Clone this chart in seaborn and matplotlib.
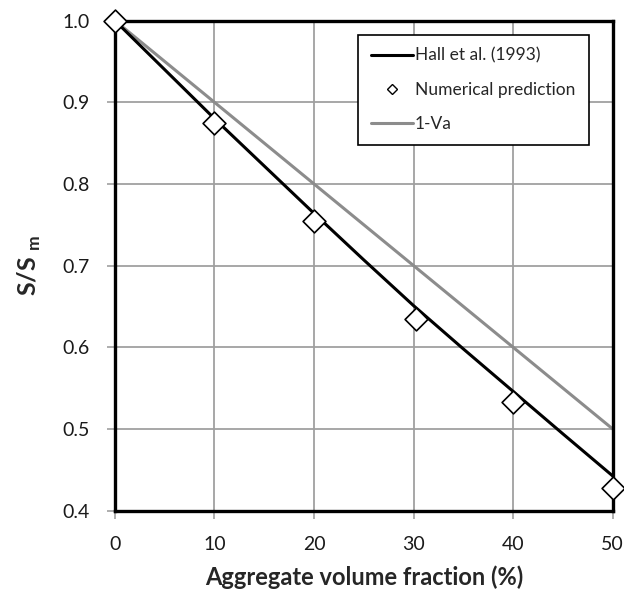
import matplotlib
matplotlib.use("Agg")
import matplotlib.pyplot as plt
import seaborn as sns
from matplotlib.lines import Line2D

# Hall et al. (1993) relation, sampled every 5 % aggregate
hall_x = [0, 5, 10, 15, 20, 25, 30, 35, 40, 45, 50]
hall_y = [1.000, 0.940, 0.880, 0.822, 0.764, 0.707, 0.651, 0.598, 0.546, 0.494, 0.4425]

# Numerical prediction
num_x = [0, 10, 20, 30.2, 40, 50]
num_y = [1.000, 0.874, 0.755, 0.635, 0.533, 0.428]

# Simple dilution line 1 - Va
dil_x = [0, 50]
dil_y = [1.0, 0.5]

y_ticks = [0.4, 0.5, 0.6, 0.7, 0.8, 0.9, 1.0]
x_ticks = [0, 10, 20, 30, 40, 50]

sns.set_theme(style="white")
plt.rcParams["font.family"] = ["Lato", "DejaVu Sans"]
plt.rcParams["mathtext.fontset"] = "custom"
plt.rcParams["mathtext.bf"] = "Lato:bold"
plt.rcParams["mathtext.rm"] = "Lato"

fig = plt.figure(figsize=(6.24, 5.92), dpi=100)
ax = fig.add_axes([0.184, 0.1373, 0.798, 0.828])

grid_c = "#a0a0a0"
for xv in x_ticks[1:-1]:
    ax.axvline(xv, color=grid_c, lw=1.3, zorder=0)
for yv in y_ticks[1:-1]:
    ax.axhline(yv, color=grid_c, lw=1.3, zorder=0)

sns.lineplot(x=dil_x, y=dil_y, ax=ax, color="#8c8c8c", lw=2.2, zorder=2)
sns.lineplot(x=hall_x, y=hall_y, ax=ax, color="black", lw=2.2, zorder=3)
sns.scatterplot(x=num_x, y=num_y, ax=ax, marker="D", s=135,
                facecolor="white", edgecolor="black", linewidth=1.2,
                zorder=5, clip_on=False)

ax.set_xlim(0, 50)
ax.set_ylim(0.4, 1.0)
ax.set_xticks(x_ticks)
ax.set_yticks(y_ticks)
ax.set_yticklabels([f"{v:.1f}" for v in y_ticks])
ax.tick_params(axis="both", which="major", direction="out", length=6,
               width=1.2, color=grid_c, labelsize=14, labelcolor="#1a1a1a",
               left=True, bottom=True)
ax.tick_params(axis="y", pad=12)
ax.tick_params(axis="x", pad=12)

for side in ["left", "right", "top", "bottom"]:
    ax.spines[side].set_visible(True)
    ax.spines[side].set_color("black")
    ax.spines[side].set_linewidth(2.4)
    ax.spines[side].set_zorder(4)

ax.set_xlabel("Aggregate volume fraction (%)", fontsize=17, fontweight="bold",
              labelpad=9)
ax.set_ylabel(r"S/S$_{\ \mathbf{m}}$", fontsize=18, fontweight="bold",
              labelpad=14)

handles = [
    Line2D([], [], color="black", lw=2.2),
    Line2D([], [], ls="none", marker="D", ms=5.5, markerfacecolor="white",
           markeredgecolor="black", markeredgewidth=1.0),
    Line2D([], [], color="#8c8c8c", lw=2.2),
]
labels = ["Hall et al. (1993)", "Numerical prediction", "1-Va"]
leg = ax.legend(handles, labels, loc="upper left", bbox_to_anchor=(0.488, 0.971),
                frameon=True, fancybox=False, fontsize=12.5, handlelength=2.4,
                handletextpad=0.15, borderpad=0.75, labelspacing=1.05,
                borderaxespad=0)
leg.get_frame().set_edgecolor("black")
leg.get_frame().set_linewidth(1.2)
leg.get_frame().set_alpha(1)

fig.savefig("out.png", dpi=100)
